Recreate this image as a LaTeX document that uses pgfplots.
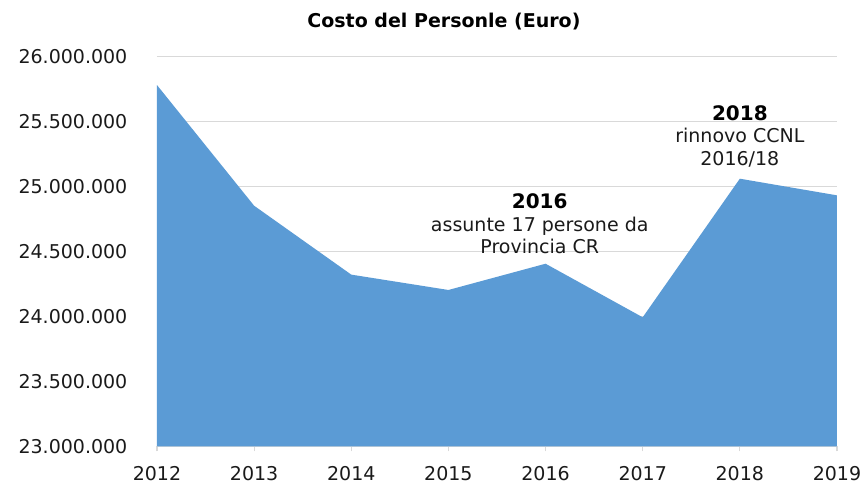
\documentclass[border=0pt]{standalone}
\usepackage{pgfplots}
\pgfplotsset{compat=1.18}
\usepackage{fontspec}
\setmainfont{DejaVu Sans}
\definecolor{areablue}{HTML}{5B9BD5}
\definecolor{gridgray}{HTML}{D9D9D9}
\definecolor{txt}{HTML}{1A1A1A}

\pgfplotstableread{
anno costo
2012 25780000
2013 24852000
2014 24322000
2015 24204000
2016 24406000
2017 23994000
2018 25060000
2019 24932000
}\costo

\begin{document}
\begin{tikzpicture}
\begin{axis}[
    scale only axis,
    width=340pt, height=195pt,
    xmin=2012, xmax=2019,
    ymin=23000000, ymax=26000000,
    xtick={2012,2013,...,2019},
    ytick={23000000,23500000,...,26000000},
    scaled y ticks=false,
    axis y line*=left,
    axis x line*=bottom,
    y axis line style={draw=none},
    x axis line style={gridgray, line width=0.7pt},
    ymajorgrids=true,
    grid style={gridgray, line width=0.6pt},
    ytick style={draw=none},
    xtick style={gridgray, line width=0.6pt},
    tick align=outside,
    major tick length=2.5pt,
    /pgf/number format/assume math mode=true,
    font=\fontsize{9.5pt}{11pt}\selectfont\color{txt},
    y tick label style={xshift=-8.8pt,
        /pgf/number format/.cd, fixed, precision=0, 1000 sep={.}},
    x tick label style={yshift=-4pt, /pgf/number format/1000 sep={}},
    title={\textbf{Costo del Personle (Euro)}},
    title style={at={(0.422,1)}, anchor=base, yshift=8.5pt,
        font=\fontsize{9.5pt}{11pt}\selectfont\color{black}},
    clip=false,
]
\addplot[draw=none, fill=areablue] table[x=anno, y=costo] {\costo} \closedcycle;

\node[anchor=base, font=\bfseries] at (axis cs:2015.94,24827000) {2016};
\node[anchor=base] at (axis cs:2015.94,24650000) {assunte 17 persone da};
\node[anchor=base] at (axis cs:2015.94,24488000) {Provincia CR};
\node[anchor=base, font=\bfseries] at (axis cs:2018,25504000) {2018};
\node[anchor=base] at (axis cs:2018,25335000) {rinnovo CCNL};
\node[anchor=base] at (axis cs:2018,25158000) {2016/18};
\end{axis}
\pgfresetboundingbox
\useasboundingbox (-78.5pt,-19.75pt) rectangle (355.5pt,223.25pt);
\end{tikzpicture}
\end{document}
